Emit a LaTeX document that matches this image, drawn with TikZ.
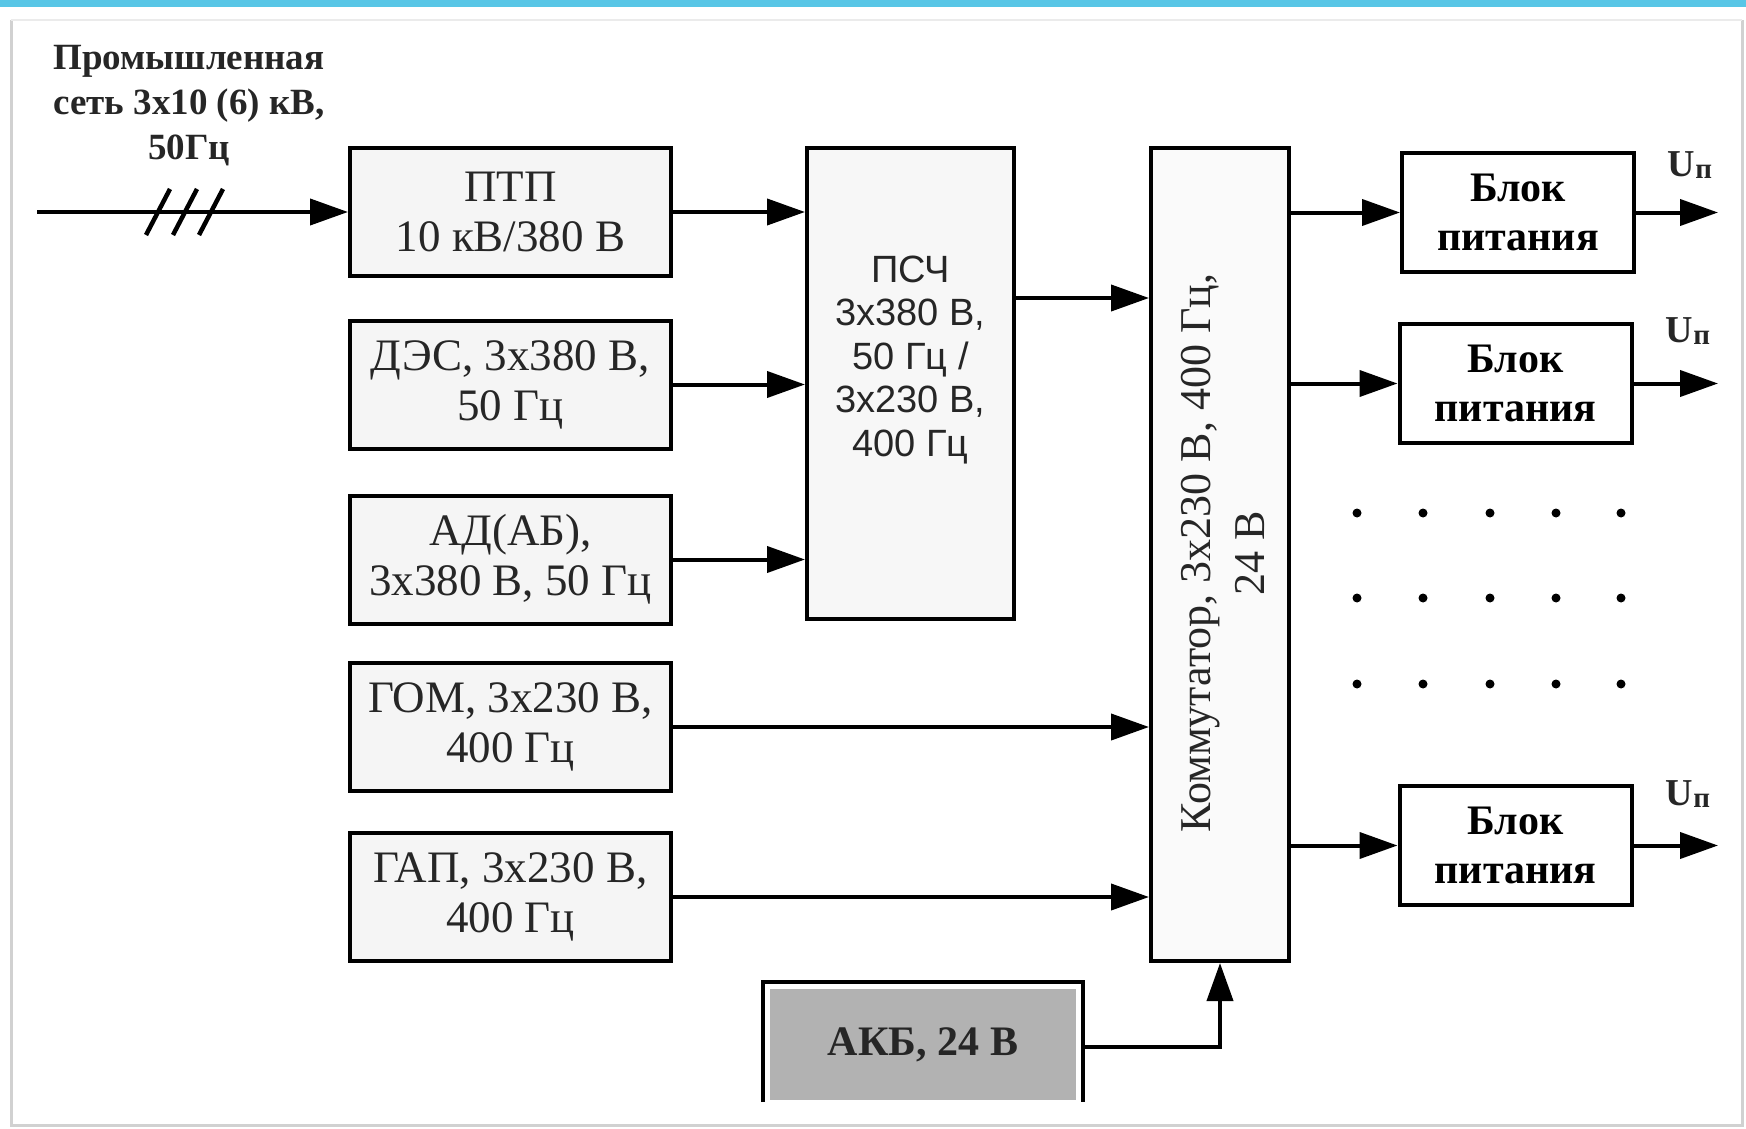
\documentclass[tikz,border=0pt]{standalone}
\usepackage{fontspec}
\setmainfont{Liberation Serif}
\newfontfamily\arialf{Liberation Sans}
\usetikzlibrary{arrows.meta}
\definecolor{topbar}{RGB}{88,198,230}
\tikzset{
  src/.style={draw=black, line width=4pt, fill=black!4, minimum width=321pt, minimum height=128pt,
    align=center, text=black!85, font=\fontsize{45}{50}\selectfont, inner sep=0pt},
  blk/.style={draw=black, line width=4pt, fill=white, minimum width=232pt, minimum height=119pt,
    align=center, font=\bfseries\fontsize{42}{49}\selectfont, inner sep=0pt},
  conn/.style={line width=4pt, -{Triangle[length=38pt,width=26pt]}},
  lbl/.style={inner sep=0pt, align=center},
  dotm/.style={fill=black, circle, minimum size=9pt, inner sep=0pt}
}
\newcommand{\Upsub}{U\raisebox{-2pt}{\fontsize{29}{29}\selectfont п}}
\begin{document}
\begin{tikzpicture}[x=1pt,y=-1pt]
\useasboundingbox (0,0) rectangle (1746,1129);
\fill[white] (0,0) rectangle (1746,1129);
\fill[topbar] (0,0) rectangle (1746,7);
\draw[black!18, line width=3pt] (11,20) -- (11,1125) -- (1742,1125) -- (1742,20);
\draw[black!8, line width=2pt] (11,20) -- (1742,20);

% source boxes
\node[src] (ptp) at (510.5,212) {ПТП\\10 кВ/380 В};
\node[src] (des) at (510.5,384.5) {ДЭС, 3х380 В,\\50 Гц};
\node[src] (ad)  at (510.5,559.5) {АД(АБ),\\3х380 В, 50 Гц};
\node[src] (gom) at (510.5,727) {ГОМ, 3х230 В,\\400 Гц};
\node[src] (gap) at (510.5,897) {ГАП, 3х230 В,\\400 Гц};

% converter
\node[draw=black, line width=4pt, fill=black!3, minimum width=207pt, minimum height=471pt, inner sep=0pt] (psch) at (910.5,383.5) {};
\node[lbl, font=\arialf\fontsize{38}{43.5}\selectfont, text=black!85] (pscht) at (910.5,360) {ПСЧ\\3x380 В,\\50 Гц /\\3x230 В,\\400 Гц};

% commutator
\node[draw=black, line width=4pt, fill=black!2, minimum width=138pt, minimum height=813pt, inner sep=0pt] (komm) at (1220,554.5) {};
\node[lbl, rotate=90, font=\fontsize{44}{54}\selectfont, text=black!85] (kommt) at (1223,553) {Коммутатор, 3х230 В, 400 Гц,\\24 В};

% power blocks
\node[blk] (b1) at (1518,212.5) {Блок\\питания};
\node[blk] (b2) at (1515.5,383.5) {Блок\\питания};
\node[blk] (b3) at (1515.5,845.5) {Блок\\питания};

% battery
\fill[black!30] (770,989) rectangle (1076,1100);
\draw[line width=4pt] (763,1102) -- (763,982) -- (1083,982) -- (1083,1102);
\node[lbl, font=\bfseries\fontsize{42}{48}\selectfont, text=black!85] (akb) at (923,1045) {АКБ, 24 В};
\coordinate (akbE) at (1083,1047);

% input line
\node[lbl, font=\bfseries\fontsize{37}{45}\selectfont, text=black!85] (netlbl) at (189,106) {Промышленная\\сеть 3х10 (6) кВ,\\50Гц};
\coordinate (inS) at (37,212);
\draw[conn] (inS) -- (ptp.west);
\foreach \cx in {158,185,211}
  \draw[line width=4.5pt] (\cx-12,235) -- (\cx+12,189);

% connectors to converter
\draw[conn] (ptp.east) -- (ptp.east -| psch.west);
\draw[conn] (des.east) -- (des.east -| psch.west);
\draw[conn] (ad.east) -- (ad.east -| psch.west);

% to commutator
\coordinate (pschO) at (1014,298);
\draw[conn] (pschO) -- (pschO -| komm.west);
\draw[conn] (gom.east) -- (gom.east -| komm.west);
\draw[conn] (gap.east) -- (gap.east -| komm.west);
\draw[conn] (akbE) -| (komm.south);

% commutator to blocks
\draw[conn] (komm.east |- b1.west) -- (b1.west);
\draw[conn] (komm.east |- b2.west) -- (b2.west);
\draw[conn] (komm.east |- b3.west) -- (b3.west);

% outputs
\coordinate (o1) at (1718,212.5);
\coordinate (o2) at (1718,383.5);
\coordinate (o3) at (1718,845.5);
\draw[conn] (b1.east) -- (o1);
\draw[conn] (b2.east) -- (o2);
\draw[conn] (b3.east) -- (o3);
\node[lbl, font=\bfseries\fontsize{38}{38}\selectfont, text=black!85] (u1) at (1690,165) {\Upsub};
\node[lbl, font=\bfseries\fontsize{38}{38}\selectfont, text=black!85] (u2) at (1688,331) {\Upsub};
\node[lbl, font=\bfseries\fontsize{38}{38}\selectfont, text=black!85] (u3) at (1688,794) {\Upsub};

% dots
\foreach \dx in {1357,1423,1490,1556,1621}
  \foreach \dy in {513,598,684}
    \node[dotm] at (\dx,\dy) {};
\end{tikzpicture}
\end{document}
